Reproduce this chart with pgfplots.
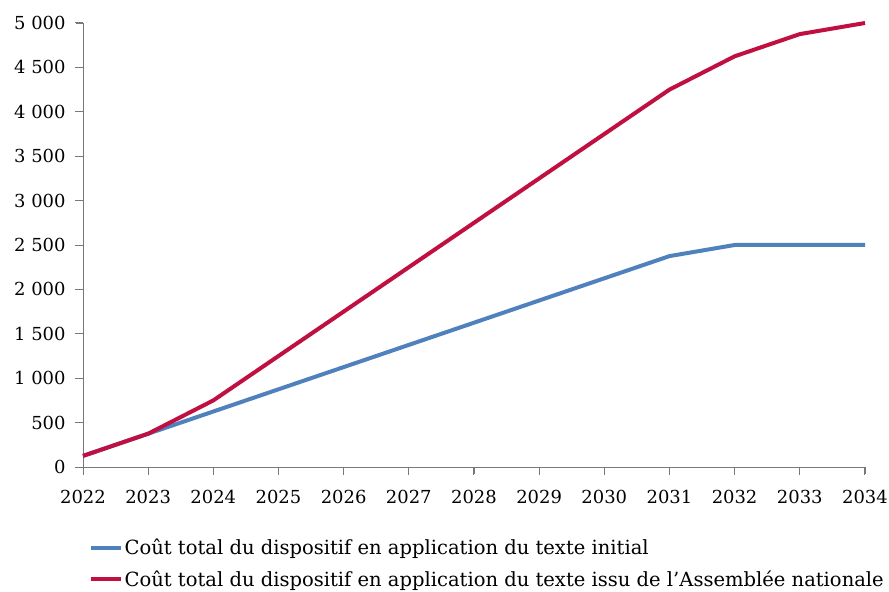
\documentclass[border=0pt]{standalone}
\usepackage{pgfplots}
\pgfplotsset{compat=1.18}
\usepackage{fontspec}
\setmainfont{DejaVu Serif}
\definecolor{cblue}{RGB}{79,129,189}
\definecolor{cred}{RGB}{192,16,66}
\definecolor{axgray}{RGB}{120,120,120}
\begin{document}
\begin{tikzpicture}
\useasboundingbox (-83bp,-125bp) rectangle (806bp,467bp);
\begin{axis}[
  scale only axis,
  clip=false,
  width=782bp, height=444bp,
  xmin=2022, xmax=2034, ymin=0, ymax=5000,
  xtick={2022,...,2034},
  ytick={0,500,...,5000},
  axis lines*=left,
  tick align=outside,
  axis line style={axgray, line width=0.9pt, -},
  major tick style={draw=axgray, line width=1pt},
  major tick length=8bp,
  tick label style={font=\fontsize{18}{22}\selectfont},
  xticklabel style={yshift=-12bp},
  yticklabel style={xshift=-6bp},
  /pgf/number format/assume math mode=true,
  xticklabel={\pgfmathprintnumber[1000 sep={}]{\tick}},
  yticklabel={\pgfmathprintnumber[1000 sep={\ }]{\tick}},
  legend style={draw=none, fill=none, at={(0.007,-0.158)}, anchor=north west,
    font=\fontsize{19.6}{23}\selectfont, inner sep=0pt, row sep=10bp,
    /tikz/every even column/.append style={column sep=0pt}},
  legend cell align=left,
  legend image code/.code={\draw[#1, line width=4bp] (0bp,0bp) -- (30bp,0bp);},
]
\pgfplotsinvokeforeach{2022,...,2034}{
  \draw[axgray, line width=0.9pt] (axis cs:#1,0) -- ++(0bp,-7bp);
}
\pgfplotsinvokeforeach{0,500,...,5000}{
  \draw[axgray, line width=0.9pt] (axis cs:2022,#1) -- ++(-7bp,0bp);
}
\addplot[cblue, line width=4bp, line join=round] coordinates {
(2022,125) (2023,375) (2024,625) (2025,875) (2026,1125) (2027,1375) (2028,1625)
(2029,1875) (2030,2125) (2031,2375) (2032,2500) (2033,2500) (2034,2500)};
\addlegendentry{Coût total du dispositif en application du texte initial}
\addplot[cred, line width=4bp, line join=round] coordinates {
(2022,125) (2023,375) (2024,750) (2025,1250) (2026,1750) (2027,2250) (2028,2750)
(2029,3250) (2030,3750) (2031,4250) (2032,4625) (2033,4875) (2034,5000)};
\addlegendentry{Coût total du dispositif en application du texte issu de l’Assemblée nationale}
\end{axis}
\end{tikzpicture}
\end{document}
